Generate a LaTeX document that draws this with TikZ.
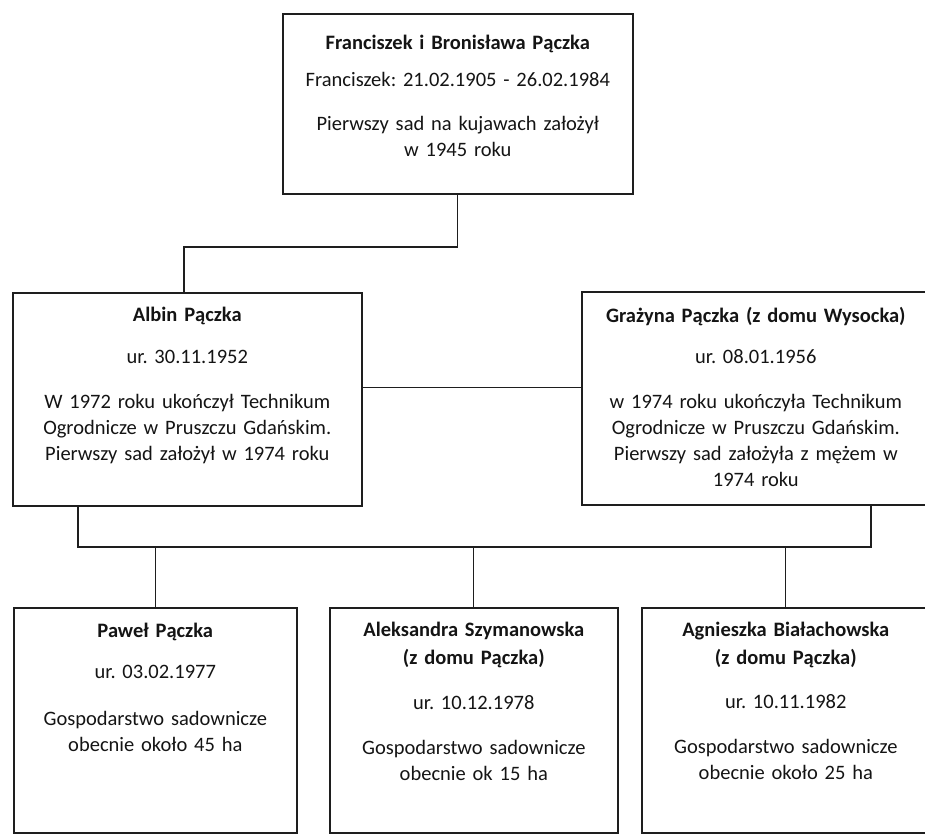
\documentclass[tikz,border=0pt]{standalone}
\usepackage{fontspec}
\setmainfont{Carlito}
\frenchspacing
\definecolor{linec}{HTML}{1E1E1E}
\definecolor{textc}{HTML}{141414}
\begin{document}
\begin{tikzpicture}[x=1pt,y=-1pt,
  box/.style={draw=linec, line width=1.6pt, rectangle, inner sep=0pt, anchor=north west},
  txt/.style={anchor=base, text width=#1, align=center, inner sep=0pt,
    font=\fontsize{20.5}{26}\selectfont\frenchspacing, text=textc},
  conn/.style={draw=linec, line width=1.3pt}]
\useasboundingbox (0,0) rectangle (925,834);
\clip (0,0) rectangle (925,834);

% boxes
\node[box, minimum width=350pt, minimum height=180pt] (top) at (282,13) {};
\node[box, minimum width=349pt, minimum height=213pt] (albin) at (12,292) {};
\node[box, minimum width=348pt, minimum height=213pt] (graz) at (581,291) {};
\node[box, minimum width=283pt, minimum height=225pt] (pawel) at (13,607) {};
\node[box, minimum width=288pt, minimum height=225pt] (aleks) at (329,607) {};
\node[box, minimum width=288pt, minimum height=225pt] (agn) at (641,607) {};

% texts
\node[txt=340pt] (topT) at ([yshift=-37pt]top.north)
  {\textbf{Franciszek i Bronisława Pączka}\\[11pt]
   Franciszek: 21.02.1905 - 26.02.1984\\[18pt]
   Pierwszy sad na kujawach założył\\
   w 1945 roku};
\node[txt=340pt] (albinT) at ([yshift=-29pt]albin.north)
  {\textbf{Albin Pączka}\\[16pt]
   ur. 30.11.1952\\[19pt]
   W 1972 roku ukończył Technikum\\
   Ogrodnicze w Pruszczu Gdańskim.\\
   Pierwszy sad założył w 1974 roku};
\node[txt=340pt] (grazT) at ([yshift=-31pt]graz.north)
  {\textbf{Grażyna Pączka (z domu Wysocka)}\\[15pt]
   ur. 08.01.1956\\[19pt]
   w 1974 roku ukończyła Technikum\\
   Ogrodnicze w Pruszczu Gdańskim.\\
   Pierwszy sad założyła z mężem w\\
   1974 roku};
\node[txt=275pt] (pawelT) at ([yshift=-30pt]pawel.north)
  {\textbf{Paweł Pączka}\\[15pt]
   ur. 03.02.1977\\[21pt]
   Gospodarstwo sadownicze\\
   obecnie około 45 ha};
\node[txt=280pt] (aleksT) at ([yshift=-29pt]aleks.north)
  {\textbf{Aleksandra Szymanowska}\\[2pt]
   \textbf{(z domu Pączka)}\\[19pt]
   ur. 10.12.1978\\[19pt]
   Gospodarstwo sadownicze\\
   obecnie ok 15 ha};
\node[txt=280pt] (agnT) at ([yshift=-29pt]agn.north)
  {\textbf{Agnieszka Białachowska}\\[2pt]
   \textbf{(z domu Pączka)}\\[18pt]
   ur. 10.11.1982\\[19pt]
   Gospodarstwo sadownicze\\
   obecnie około 25 ha};

% junction points
\coordinate (jA) at (184,247);
\coordinate (jL) at (78,547);
\coordinate (jR) at (871,547);

% connectors
\draw[conn] (top.south) |- (jA) -- (jA |- albin.north);
\draw[conn] ([yshift=11.5pt]albin.east) -- ([yshift=10.5pt]graz.west);
\draw[conn] (albin.south -| jL) -- (jL) -- (jR) -- (graz.south -| jR);
\draw[conn] (pawel.north) -- (pawel.north |- jL);
\draw[conn] (aleks.north) -- (aleks.north |- jL);
\draw[conn] (agn.north) -- (agn.north |- jL);
\end{tikzpicture}
\end{document}
